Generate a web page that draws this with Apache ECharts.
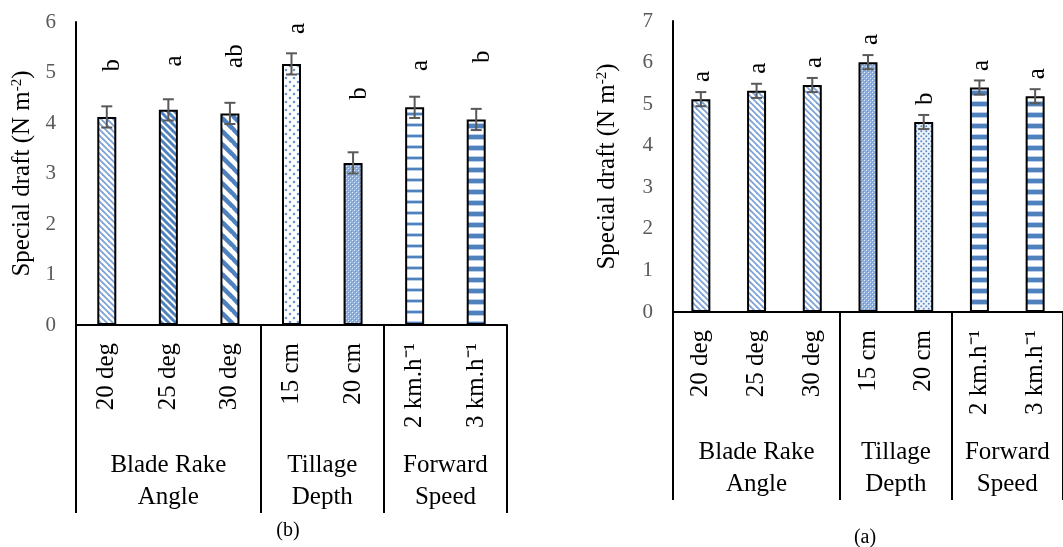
<!DOCTYPE html>
<html>
<head>
<meta charset="utf-8">
<script src="https://cdn.jsdelivr.net/npm/echarts@6/dist/echarts.min.js"></script>
<style>html,body{margin:0;padding:0;background:#fff}#c{width:1063px;height:547px}</style>
</head>
<body>
<div id="c"></div>
<script>
// ---------- data ----------
var categories = ['20 deg', '25 deg', '30 deg', '15 cm', '20 cm', '2 km.h\u207B\u00B9', '3 km.h\u207B\u00B9'];
var groupNames = ['Blade Rake\nAngle', 'Tillage\nDepth', 'Forward\nSpeed'];
var groupSizes = [3, 2, 2];
var yTicksB = [0, 1, 2, 3, 4, 5, 6];
var yTicksA = [0, 1, 2, 3, 4, 5, 6, 7];
// panel (b)
var valuesB = [4.12, 4.26, 4.19, 5.17, 3.21, 4.31, 4.07];
var errorsB = [0.21, 0.21, 0.21, 0.21, 0.21, 0.21, 0.21];
var lettersB = ['b', 'a', 'ab', 'a', 'b', 'a', 'b'];
var letterAtB = [5.02, 5.12, 5.09, 5.76, 4.46, 5.03, 5.19];
// panel (a)
var valuesA = [5.12, 5.32, 5.46, 6.01, 4.57, 5.40, 5.19];
var errorsA = [0.17, 0.17, 0.17, 0.17, 0.17, 0.17, 0.17];
var lettersA = ['a', 'a', 'a', 'a', 'b', 'a', 'a'];
var letterAtA = [5.53, 5.73, 5.87, 6.42, 4.98, 5.80, 5.60];

// ---------- patterns ----------
var BLUE = '#4F81BD';
function tile(w, h, draw) {
  var c = document.createElement('canvas');
  c.width = w; c.height = h;
  var g = c.getContext('2d');
  g.fillStyle = '#fff'; g.fillRect(0, 0, w, h);
  draw(g, w, h);
  return { image: c, repeat: 'repeat' };
}
function diag(p, lw, col) {
  return tile(p, p, function (g) {
    g.strokeStyle = col; g.lineWidth = lw;
    for (var k = -1; k <= 1; k++) {
      g.beginPath(); g.moveTo(k * p - 1, -1); g.lineTo(k * p + p + 1, p + 1); g.stroke();
    }
  });
}
function dots(p, r, col, bg) {
  return tile(p, p, function (g, w, h) {
    if (bg) { g.fillStyle = bg; g.fillRect(0, 0, w, h); }
    g.fillStyle = col;
    g.beginPath(); g.arc(p / 4, p / 4, r, 0, Math.PI * 2); g.fill();
    g.beginPath(); g.arc(3 * p / 4, 3 * p / 4, r, 0, Math.PI * 2); g.fill();
  });
}
function dense() {
  return tile(4, 4, function (g) {
    g.fillStyle = '#8DAFDD'; g.fillRect(0, 0, 4, 4);
    g.fillStyle = '#E2EBF6'; g.fillRect(0, 0, 1, 1); g.fillRect(2, 2, 1, 1);
    g.fillStyle = '#6F97CE'; g.fillRect(1, 1, 1, 1); g.fillRect(3, 3, 1, 1);
  });
}
function horiz(p, th, col) {
  return tile(2, p, function (g) {
    g.fillStyle = '#B9CEEA'; g.fillRect(0, 2, 2, th + 2);
    g.fillStyle = col; g.fillRect(0, 3, 2, th);
  });
}
var P = {
  diagLight: diag(6, 1.8, '#7FA3D6'),
  diagMid: diag(7, 3, BLUE),
  diagWide: diag(13, 4.5, BLUE),
  dotsLight: dots(8, 1.3, '#6E97CF'),
  dotsSmall: dots(5, 1.0, '#5B8BC9', '#EEF3FA'),
  dense: dense(),
  hThin: horiz(11, 2, BLUE),
  hThick: horiz(11, 4, BLUE)
};
var fillsB = ['diagLight', 'diagMid', 'diagWide', 'dotsLight', 'dense', 'hThin', 'hThick'];
var fillsA = ['diagLight', 'diagLight', 'diagLight', 'dense', 'dotsSmall', 'hThick', 'hThick'];

var FONT = "'Liberation Serif','Times New Roman',serif";

// group boundaries / centres derived from group sizes
var bounds = [0], centres = [];
groupSizes.forEach(function (s) { var a = bounds[bounds.length - 1]; centres.push(a + s / 2); bounds.push(a + s); });

function barSeries(gi, values, fills) {
  return {
    type: 'bar', xAxisIndex: gi * 2, yAxisIndex: gi, barWidth: 19,
    data: values.map(function (v, i) {
      return { value: v, itemStyle: { color: P[fills[i]], borderColor: '#000', borderWidth: 2 } };
    }),
    silent: true, animation: false
  };
}
function errSeries(gi, values, errors, letters, letterAt, shift) {
  return {
    type: 'custom', xAxisIndex: gi * 2, yAxisIndex: gi, z: 5, animation: false, silent: true,
    data: values.map(function (v, i) { return [i, v, errors[i], letterAt[i]]; }),
    renderItem: function (params, api) {
      var i = api.value(0), v = api.value(1), e = api.value(2), la = api.value(3);
      var top = api.coord([i, v + e]), bot = api.coord([i, v - e]), lp = api.coord([i, la]);
      var cw = 5.5, st = { stroke: '#595959', lineWidth: 2 };
      return {
        type: 'group', children: [
          { type: 'line', shape: { x1: top[0], y1: top[1], x2: bot[0], y2: bot[1] }, style: st },
          { type: 'line', shape: { x1: top[0] - cw, y1: top[1], x2: top[0] + cw, y2: top[1] }, style: st },
          { type: 'line', shape: { x1: bot[0] - cw, y1: bot[1], x2: bot[0] + cw, y2: bot[1] }, style: st },
          { type: 'text', x: lp[0] + shift, y: lp[1], rotation: Math.PI / 2,
            style: { text: letters[params.dataIndex], fontSize: 25, fontFamily: FONT, fill: '#000',
                     align: 'left', verticalAlign: 'middle' } }
        ]
      };
    }
  };
}
function catAxis(gi) {
  return {
    type: 'category', gridIndex: gi, data: categories, position: 'bottom',
    axisLine: { lineStyle: { color: '#000', width: 2 } },
    axisTick: { show: false },
    axisLabel: { rotate: 90, interval: 0, margin: 18, fontSize: 25, fontFamily: FONT, color: '#000' }
  };
}
function groupAxis(gi) {
  return {
    type: 'value', gridIndex: gi, min: 0, max: categories.length, position: 'bottom', offset: 0,
    axisLine: { show: false }, splitLine: { show: false },
    axisTick: { show: true, customValues: bounds, length: 188, lineStyle: { color: '#000', width: 2 } },
    axisLabel: {
      customValues: centres, margin: 124, fontSize: 25, lineHeight: 32, fontFamily: FONT, color: '#000',
      formatter: function (v) { var k = centres.indexOf(v); return k >= 0 ? groupNames[k] : ''; }
    }
  };
}
function valAxis(gi, ticks, gap) {
  return {
    type: 'value', gridIndex: gi, min: ticks[0], max: ticks[ticks.length - 1], interval: 1,
    axisLine: { show: true, lineStyle: { color: '#000', width: 2 } },
    axisTick: { show: false }, splitLine: { show: false },
    axisLabel: { margin: 20, fontSize: 21, fontFamily: FONT, color: '#595959' },
    name: 'Special draft (N m{s|-2})', nameLocation: 'middle', nameRotate: 90, nameGap: gap,
    nameTextStyle: { fontSize: 25, fontFamily: FONT, color: '#000',
      rich: { s: { fontSize: 15, fontFamily: FONT, color: '#000', verticalAlign: 'top' } } }
  };
}

var chart = echarts.init(document.getElementById('c'), null, { renderer: 'canvas' });
chart.setOption({
  animation: false,
  backgroundColor: '#fff',
  title: [
    { text: '(b)', left: 283, top: 516, textAlign: 'center', textStyle: { fontSize: 20, fontWeight: 'normal', fontFamily: FONT, color: '#000' } },
    { text: '(a)', left: 860, top: 523, textAlign: 'center', textStyle: { fontSize: 20, fontWeight: 'normal', fontFamily: FONT, color: '#000' } }
  ],
  grid: [
    { left: 76, top: 22, width: 431, height: 303 },
    { left: 673, top: 21, width: 402.5, height: 291 }
  ],
  xAxis: [catAxis(0), groupAxis(0), catAxis(1), groupAxis(1)],
  yAxis: [valAxis(0, yTicksB, 41), valAxis(1, yTicksA, 53)],
  series: [
    barSeries(0, valuesB, fillsB),
    errSeries(0, valuesB, errorsB, lettersB, letterAtB, 6),
    barSeries(1, valuesA, fillsA),
    errSeries(1, valuesA, errorsA, lettersA, letterAtA, 2)
  ]
});
</script>
</body>
</html>
